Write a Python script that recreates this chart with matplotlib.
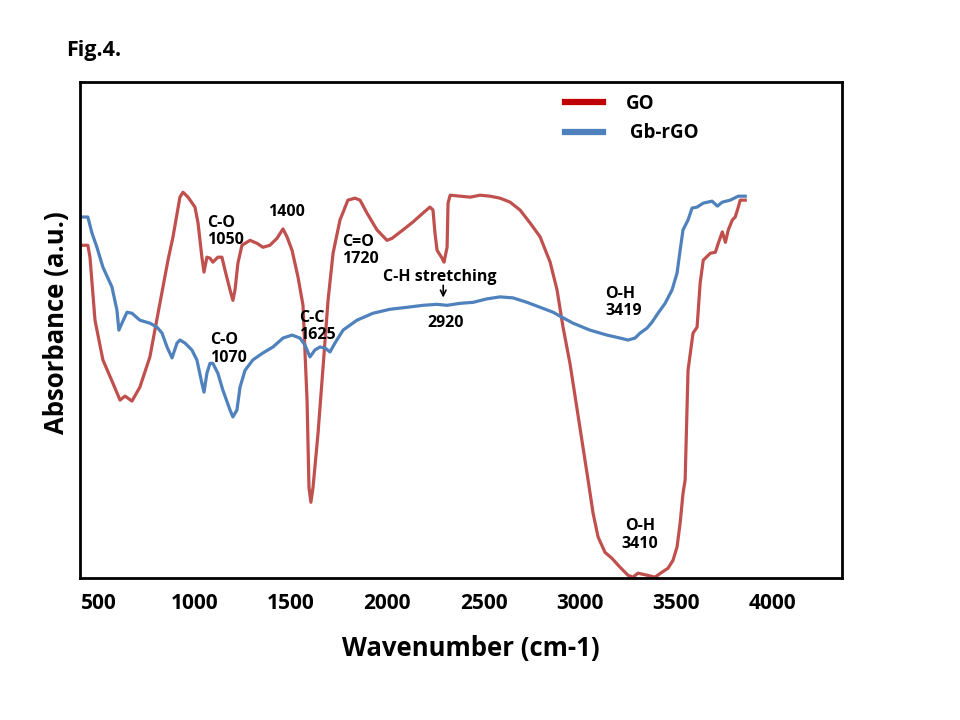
import numpy as np
import matplotlib
matplotlib.use("Agg")
import matplotlib.pyplot as plt
from matplotlib.lines import Line2D

plt.rcParams['font.family'] = ['Open Sans', 'DejaVu Sans']

# GO spectrum (wavenumber cm-1, absorbance a.u.)
go_wn = [420, 445, 456, 482, 523, 575, 612, 638, 674, 715, 767, 819, 861, 887, 923, 939, 965,
         1001, 1017, 1037, 1048, 1063, 1079, 1094, 1120, 1141, 1157, 1183, 1198, 1209, 1224, 1245,
         1287, 1323, 1354, 1390, 1427, 1458, 1479, 1505, 1536, 1562, 1583, 1593, 1603, 1614, 1640,
         1666, 1692, 1718, 1754, 1795, 1832, 1858, 1894, 1946, 1998, 2024, 2081, 2133, 2185, 2221,
         2237, 2247, 2258, 2284, 2294, 2310, 2315, 2326, 2378, 2430, 2481, 2533, 2585, 2637, 2689,
         2741, 2793, 2845, 2881, 2912, 2948, 3042, 3068, 3094, 3130, 3166, 3208, 3249, 3275, 3301,
         3348, 3389, 3426, 3457, 3483, 3504, 3520, 3535, 3546, 3561, 3587, 3608, 3624, 3640, 3677,
         3703, 3718, 3739, 3755, 3770, 3791, 3806, 3822, 3832, 3858]
go_abs = [67.1, 67.1, 64.7, 52.0, 44.0, 39.3, 35.9, 36.7, 35.7, 38.5, 44.6, 55.4, 64.1, 68.8, 76.8,
          77.8, 76.8, 74.8, 71.6, 64.7, 61.7, 64.7, 64.5, 63.7, 64.7, 64.7, 62.1, 58.1, 56.0, 58.1,
          63.5, 67.1, 68.1, 67.5, 66.7, 67.1, 68.5, 70.4, 68.8, 66.1, 60.7, 55.0, 35.9, 18.3, 15.3,
          18.3, 29.2, 42.5, 56.0, 65.5, 72.2, 76.2, 76.6, 76.2, 73.6, 70.2, 68.1, 68.5, 70.2, 71.8,
          73.6, 74.8, 74.2, 69.6, 66.1, 64.5, 63.7, 66.7, 75.6, 77.2, 77.0, 76.8, 77.2, 77.0, 76.6,
          75.8, 74.2, 71.6, 68.8, 63.7, 58.1, 50.6, 43.3, 19.8, 13.1, 8.3, 5.2, 4.0, 2.2, 0.6, 0.2,
          1.0, 0.6, 0.2, 1.2, 2.0, 3.6, 6.3, 11.1, 17.1, 19.8, 41.9, 49.4, 50.6, 59.5, 64.1, 65.5,
          65.7, 67.5, 69.8, 67.7, 70.2, 72.2, 72.8, 74.8, 76.2, 76.2]

# Gb-rGO spectrum
rgo_wn = [420, 445, 466, 492, 523, 570, 596, 606, 622, 648, 674, 715, 767, 804, 830, 856, 882, 908,
          923, 949, 985, 1011, 1037, 1048, 1063, 1079, 1094, 1120, 1146, 1183, 1198, 1219, 1235,
          1261, 1302, 1354, 1406, 1458, 1505, 1546, 1572, 1598, 1624, 1650, 1676, 1702, 1728, 1770,
          1842, 1925, 2013, 2102, 2185, 2257, 2310, 2378, 2445, 2517, 2585, 2652, 2725, 2793, 2861,
          2897, 2964, 3052, 3140, 3208, 3249, 3286, 3312, 3348, 3374, 3405, 3442, 3478, 3504, 3520,
          3535, 3561, 3582, 3608, 3640, 3686, 3713, 3739, 3780, 3822, 3858]
rgo_abs = [72.8, 72.8, 69.6, 66.7, 62.7, 58.7, 54.0, 50.0, 51.4, 53.6, 53.4, 52.0, 51.4, 50.6, 49.4,
           46.6, 44.4, 47.4, 48.0, 47.4, 46.0, 44.0, 39.3, 37.5, 41.3, 43.3, 43.3, 41.3, 37.9, 33.9,
           32.5, 33.9, 38.5, 41.9, 44.0, 45.4, 46.6, 48.4, 49.0, 48.4, 47.0, 44.6, 46.0, 46.6, 46.4,
           45.6, 47.4, 50.0, 52.0, 53.4, 54.2, 54.6, 55.0, 55.2, 55.0, 55.4, 55.6, 56.3, 56.7, 56.5,
           55.6, 54.6, 53.6, 52.8, 51.4, 50.0, 49.0, 48.4, 48.0, 48.4, 49.4, 50.4, 51.6, 53.4, 55.4,
           58.1, 61.5, 66.1, 70.2, 72.2, 74.6, 74.8, 75.6, 76.0, 75.0, 75.8, 76.2, 77.0, 77.0]

x_ticks = [500, 1000, 1500, 2000, 2500, 3000, 3500, 4000]

# peak labels: text, wavenumber, absorbance, horizontal alignment
peak_labels = [
    ("C-O\n1050", 1063, 69.8, 'left'),
    ("1400", 1478, 73.8, 'center'),
    ("C-O\n1070", 1079, 46.2, 'left'),
    ("C-C\n1625", 1541, 50.8, 'left'),
    ("C=O\n1720", 1765, 66.1, 'left'),
    ("C-H stretching", 2271, 60.7, 'center'),
    ("2920", 2302, 51.4, 'center'),
    ("O-H\n3419", 3130, 55.6, 'left'),
    ("O-H\n3410", 3312, 8.7, 'center'),
]

RED = '#C0504D'
BLUE = '#4F81BD'

fig = plt.figure(figsize=(9.6, 7.2), dpi=100)
ax = fig.add_axes([0.0833, 0.197, 0.7937, 0.689])

ax.plot(go_wn, go_abs, color=RED, lw=2.3, solid_joinstyle='round')
ax.plot(rgo_wn, rgo_abs, color=BLUE, lw=2.3, solid_joinstyle='round')

ax.set_xlim(404, 4360)
ax.set_ylim(0, 100)
ax.set_xticks(x_ticks)
ax.set_xticklabels([str(t) for t in x_ticks], fontsize=15, fontweight='bold')
ax.set_yticks([])
ax.tick_params(axis='x', length=0, pad=11)
for s in ax.spines.values():
    s.set_linewidth(2.0)

ax.set_xlabel('Wavenumber (cm-1)', fontsize=18.5, fontweight='bold')
ax.set_ylabel('Absorbance (a.u.)', fontsize=18.5, fontweight='bold')
ax.xaxis.set_label_coords(0.513, -0.115)
ax.yaxis.set_label_coords(-0.013, 0.516)

for txt, x, y, ha in peak_labels:
    ax.text(x, y, txt, ha=ha, va='center', fontsize=11.5, fontweight='bold', linespacing=1.1)

# arrow for the C-H stretching band
ax.annotate('', xy=(2290, 56.0), xytext=(2290, 59.6),
            arrowprops=dict(arrowstyle='->', color='black', lw=1.2))

# legend keeps the darker swatch colours of the original
handles = [Line2D([], [], color='#C00000', lw=4.5),
           Line2D([], [], color=BLUE, lw=4.5)]
ax.legend(handles, ['GO', ' Gb-rGO'], loc='upper left', bbox_to_anchor=(0.615, 1.01),
          frameon=False, handlelength=2.0, handletextpad=1.2, labelspacing=0.5,
          prop={'size': 13.5, 'weight': 'bold'})

fig.text(0.069, 0.93, 'Fig.4.', fontsize=15.5, fontweight='bold', ha='left', va='center')

fig.savefig('out.png', dpi=100)
